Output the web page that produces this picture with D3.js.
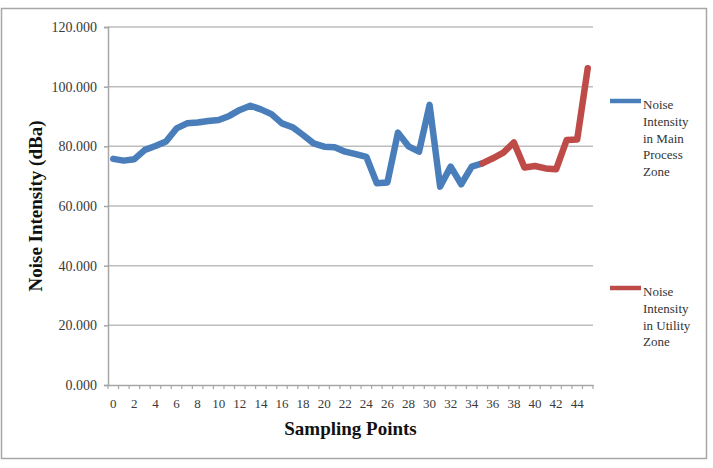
<!DOCTYPE html>
<html>
<head>
<meta charset="utf-8">
<script src="https://cdn.jsdelivr.net/npm/d3@7"></script>
<style>
  body { margin: 0; background: #fff; }
  svg { display: block; }
</style>
</head>
<body>
<div id="chart"></div>
<script>
'use strict';

// sampling points 0..45
var categories = d3.range(0, 46);
var xTickLabels = d3.range(0, 46, 2);
var yTicks = [0, 20, 40, 60, 80, 100, 120];

// noise intensity (dBa), points 0..35
var mainZone = [75.8, 75.2, 75.7, 78.8, 80.1, 81.6, 86.0, 87.7, 88.0, 88.5,
  88.8, 90.2, 92.2, 93.6, 92.4, 90.8, 87.7, 86.4, 83.8, 81.0,
  79.9, 79.7, 78.2, 77.4, 76.5, 67.6, 67.9, 84.6, 80.0, 78.2,
  93.9, 66.5, 73.2, 67.3, 73.2, 74.3];
// points 35..45
var utilityStart = 35;
var utilityZone = [74.3, 76.0, 77.9, 81.3, 72.9, 73.4, 72.6, 72.3, 82.1, 82.3, 106.2];

var seriesNames = [
  ['Noise', 'Intensity', 'in Main', 'Process', 'Zone'],
  ['Noise', 'Intensity', 'in Utility', 'Zone']
];
var seriesColors = ['#4a7ebb', '#be4b48'];

var chartWidth = 713, chartHeight = 468;
var plotLeft = 108, plotRight = 593, plotTop = 27, plotBottom = 385;
var serif = '"Liberation Serif", "Times New Roman", serif';

var svg = d3.select('#chart').append('svg')
  .attr('width', chartWidth)
  .attr('height', chartHeight);

svg.append('rect')
  .attr('x', 1.5).attr('y', 8.5)
  .attr('width', 705).attr('height', 450)
  .attr('fill', '#fff')
  .attr('stroke', '#a6a6a6')
  .attr('stroke-width', 1.5);

var x = d3.scaleBand().domain(categories).range([plotLeft, plotRight]).padding(0);
var y = d3.scaleLinear().domain([0, 120]).range([plotBottom, plotTop]);
var cx = function (i) { return x(i) + x.bandwidth() / 2; };

// gridlines
svg.append('g').selectAll('line')
  .data(yTicks.filter(function (t) { return t > 0; })).enter()
  .append('line')
  .attr('x1', plotLeft).attr('x2', plotRight)
  .attr('y1', function (d) { return y(d); })
  .attr('y2', function (d) { return y(d); })
  .attr('stroke', '#bdbdbd')
  .attr('stroke-width', 1.5);

// y axis
var yAxis = svg.append('g')
  .attr('transform', 'translate(' + plotLeft + ',0)')
  .call(d3.axisLeft(y).tickValues(yTicks).tickFormat(d3.format('.3f')).tickSize(4).tickPadding(7));
yAxis.select('.domain').attr('stroke', '#a6a6a6').attr('stroke-width', 1.5);
yAxis.selectAll('.tick line').attr('stroke', '#a6a6a6').attr('stroke-width', 1.5);
yAxis.selectAll('text')
  .attr('font-family', serif)
  .attr('font-size', 14)
  .attr('fill', '#3a3a3a');

// x axis
var xAxis = svg.append('g')
  .attr('transform', 'translate(0,' + plotBottom + ')')
  .call(d3.axisBottom(x).tickValues(xTickLabels).tickSize(0).tickPadding(14));
xAxis.select('.domain').attr('stroke', '#a6a6a6').attr('stroke-width', 1.5);
xAxis.selectAll('text')
  .attr('font-family', serif)
  .attr('font-size', 13)
  .attr('fill', '#3a3a3a');

// category boundary ticks
svg.append('g').selectAll('line')
  .data(d3.range(0, categories.length + 1)).enter()
  .append('line')
  .attr('x1', function (d) { return plotLeft + d * x.bandwidth(); })
  .attr('x2', function (d) { return plotLeft + d * x.bandwidth(); })
  .attr('y1', plotBottom).attr('y2', plotBottom + 4)
  .attr('stroke', '#a6a6a6')
  .attr('stroke-width', 1.2);

// series lines
var line = d3.line()
  .x(function (d) { return cx(d.i); })
  .y(function (d) { return y(d.v); });

var mainPts = mainZone.map(function (v, i) { return { i: categories[i], v: v }; });
var utilPts = utilityZone.map(function (v, i) { return { i: categories[utilityStart + i], v: v }; });

[mainPts, utilPts].forEach(function (pts, k) {
  svg.append('path')
    .datum(pts)
    .attr('d', line)
    .attr('fill', 'none')
    .attr('stroke', seriesColors[k])
    .attr('stroke-width', 6.5)
    .attr('stroke-linejoin', 'round')
    .attr('stroke-linecap', 'round');
});

// axis titles
svg.append('text')
  .text('Noise Intensity (dBa)')
  .attr('transform', 'translate(42,' + (plotTop + plotBottom) / 2 + ') rotate(-90)')
  .attr('text-anchor', 'middle')
  .attr('font-family', serif)
  .attr('font-size', 19)
  .attr('font-weight', 'bold')
  .attr('fill', '#111');

svg.append('text')
  .text('Sampling Points')
  .attr('x', (plotLeft + plotRight) / 2)
  .attr('y', 435)
  .attr('text-anchor', 'middle')
  .attr('font-family', serif)
  .attr('font-size', 19)
  .attr('font-weight', 'bold')
  .attr('fill', '#111');

// legend
var legendY = [101, 288];
seriesNames.forEach(function (lines, k) {
  var g = svg.append('g');
  g.append('line')
    .attr('x1', 610).attr('x2', 641)
    .attr('y1', legendY[k]).attr('y2', legendY[k])
    .attr('stroke', seriesColors[k])
    .attr('stroke-width', 4.5);
  g.append('text')
    .attr('font-family', serif)
    .attr('font-size', 13)
    .attr('fill', '#333')
    .selectAll('tspan')
    .data(lines).enter()
    .append('tspan')
    .attr('x', 643)
    .attr('y', function (d, j) { return legendY[k] + 8 + j * 16.8; })
    .text(function (d) { return d; });
});
</script>
</body>
</html>
